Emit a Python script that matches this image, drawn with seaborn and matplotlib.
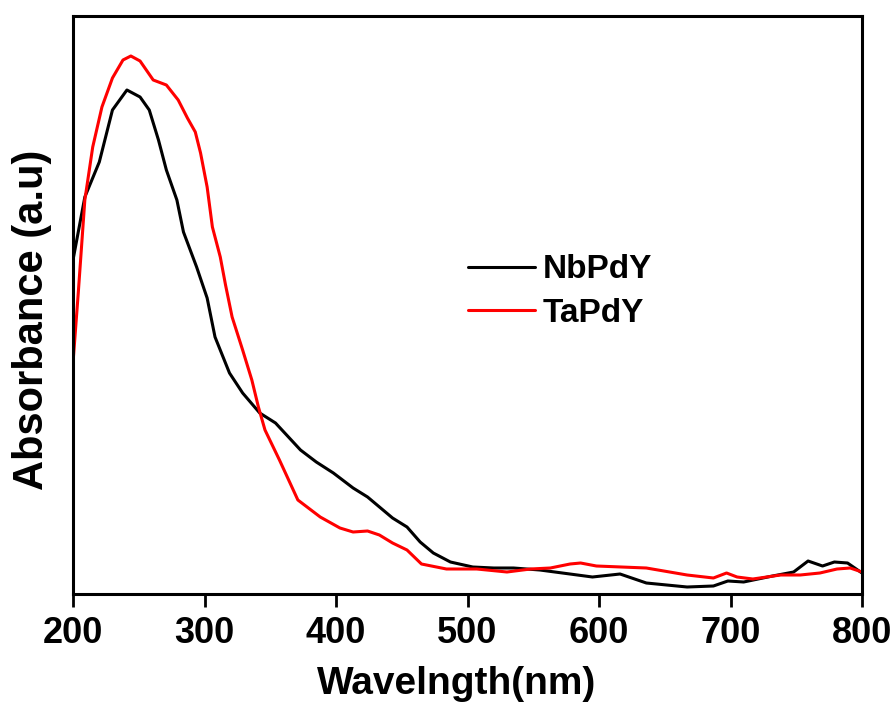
import matplotlib
matplotlib.use("Agg")
import matplotlib.pyplot as plt
import seaborn as sns
import pandas as pd
from matplotlib.lines import Line2D

sns.set_theme(style="white")
plt.rcParams['font.family'] = ['Liberation Sans', 'DejaVu Sans']
plt.rcParams['font.weight'] = 'bold'
plt.rcParams['text.color'] = 'black'
plt.rcParams['axes.labelcolor'] = 'black'
plt.rcParams['xtick.color'] = 'black'
plt.rcParams['ytick.color'] = 'black'

# NbPdY spectrum (arbitrary units)
nb_wl = [200, 209, 220, 230, 241, 251, 258, 265, 271, 279, 284, 294, 302, 308,
         319, 329, 342, 354, 373, 385, 398, 413, 424, 443, 454, 464, 474, 487,
         504, 520, 535, 555, 595, 616, 636, 667, 687, 698, 710, 732, 748, 759,
         770, 779, 789, 800]
nb_abs = [3.34, 3.97, 4.32, 4.84, 5.04, 4.97, 4.84, 4.54, 4.24, 3.94, 3.62, 3.27,
          2.96, 2.57, 2.21, 2.01, 1.81, 1.71, 1.44, 1.32, 1.21, 1.06, 0.97, 0.76,
          0.67, 0.52, 0.41, 0.32, 0.27, 0.26, 0.26, 0.24, 0.17, 0.20, 0.11, 0.07,
          0.08, 0.13, 0.12, 0.18, 0.22, 0.33, 0.28, 0.32, 0.31, 0.21]

# TaPdY spectrum (arbitrary units)
ta_wl = [200, 204, 209, 215, 222, 230, 238, 244, 251, 261, 271, 280, 287, 293,
         297, 302, 306, 312, 316, 321, 329, 336, 341, 346, 357, 371, 388, 403,
         413, 424, 433, 443, 454, 465, 484, 507, 530, 548, 563, 578, 586, 598,
         636, 667, 687, 697, 705, 717, 738, 753, 768, 781, 791, 800]
ta_abs = [2.31, 3.01, 3.94, 4.47, 4.87, 5.16, 5.34, 5.38, 5.33, 5.14, 5.09, 4.94,
          4.76, 4.62, 4.41, 4.07, 3.67, 3.37, 3.09, 2.77, 2.44, 2.14, 1.87, 1.64,
          1.34, 0.94, 0.77, 0.66, 0.62, 0.63, 0.59, 0.51, 0.44, 0.30, 0.25, 0.25,
          0.22, 0.25, 0.26, 0.30, 0.31, 0.28, 0.26, 0.19, 0.16, 0.21, 0.17, 0.15,
          0.19, 0.19, 0.21, 0.25, 0.26, 0.22]

x_ticks = [200, 300, 400, 500, 600, 700, 800]

df = pd.concat([
    pd.DataFrame({'Wavelength': nb_wl, 'Absorbance': nb_abs, 'Sample': 'NbPdY'}),
    pd.DataFrame({'Wavelength': ta_wl, 'Absorbance': ta_abs, 'Sample': 'TaPdY'}),
], ignore_index=True)

fig = plt.figure(figsize=(8.96, 7.06), dpi=100)
ax = fig.add_axes([73/896, 1-594/706, (862-73)/896, (594-16)/706])

sns.lineplot(data=df, x='Wavelength', y='Absorbance', hue='Sample',
             palette={'NbPdY': 'black', 'TaPdY': '#ff0000'},
             estimator=None, linewidth=2.2, ax=ax, legend=False)

ax.set_xlim(200, 800)
ax.set_ylim(0, 5.78)
ax.set_xticks(x_ticks)
ax.set_xticklabels([str(t) for t in x_ticks], fontsize=26, fontweight='bold',
                   color='black')
ax.set_yticks([])
ax.tick_params(axis='x', direction='out', length=9, width=2, pad=7,
               bottom=True, colors='black')
for s in ax.spines.values():
    s.set_linewidth(2.2)
    s.set_color('black')

ax.set_xlabel('Wavelngth(nm)', fontsize=28, fontweight='bold', color='black')
ax.set_ylabel('Absorbance (a.u)', fontsize=30, fontweight='bold', color='black')
ax.xaxis.set_label_coords(0.486, -0.124)
ax.yaxis.set_label_coords(-0.026, 0.474)

handles = [Line2D([], [], color='black', lw=2.2),
           Line2D([], [], color='#ff0000', lw=2.2)]
leg = ax.legend(handles, ['NbPdY', 'TaPdY'], loc='center left',
                bbox_to_anchor=(468/896, 1-291.5/706), bbox_transform=fig.transFigure,
                frameon=False, handlelength=2.0, handletextpad=0.25,
                labelspacing=0.37, borderpad=0, borderaxespad=0,
                prop={'weight': 'bold', 'size': 24})
for t in leg.get_texts():
    t.set_color('black')

fig.savefig('out.png', dpi=100)
